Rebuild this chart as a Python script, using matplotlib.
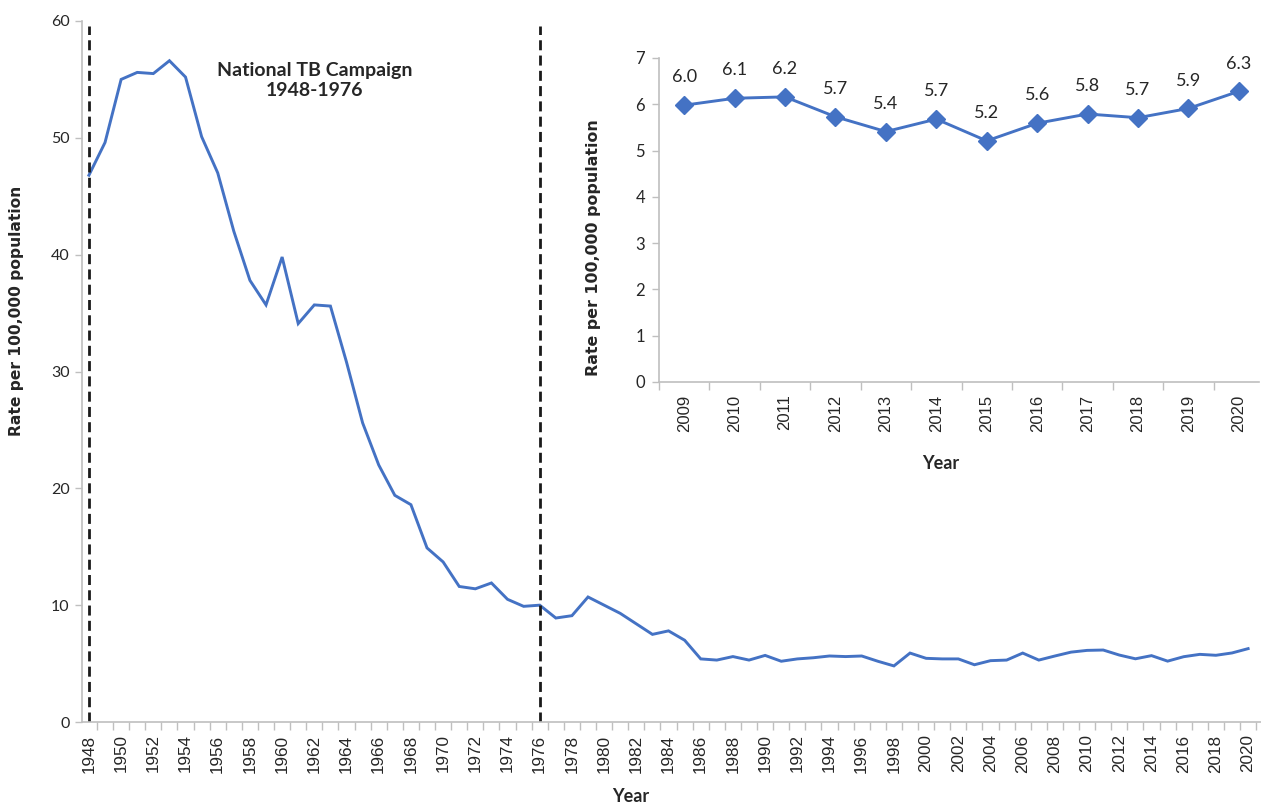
import numpy as np
import matplotlib
matplotlib.use("Agg")
import matplotlib.pyplot as plt
from matplotlib.ticker import FixedLocator, MultipleLocator

# Datos: tasa anual por 100.000 habitantes
years = list(range(1948, 2021))
rates = [
    46.8, 49.6, 55.0, 55.6, 55.5, 56.6, 55.2, 50.1, 47.0, 42.0,   # 1948-1957
    37.8, 35.7, 39.8, 34.1, 35.7, 35.6, 30.8, 25.6, 22.0, 19.4,   # 1958-1967
    18.6, 14.9, 13.7, 11.6, 11.4, 11.9, 10.5, 9.9, 10.0, 8.9,     # 1968-1977
    9.1, 10.7, 10.0, 9.3, 8.4, 7.5, 7.8, 7.0, 5.4, 5.3,           # 1978-1987
    5.6, 5.3, 5.7, 5.2, 5.4, 5.5, 5.65, 5.6, 5.65, 5.2,           # 1988-1997
    4.8, 5.9, 5.45, 5.4, 5.4, 4.9, 5.25, 5.3, 5.9, 5.3,           # 1998-2007
    5.65, 5.98, 6.13, 6.16, 5.73, 5.41, 5.68, 5.21, 5.59, 5.79,   # 2008-2017
    5.71, 5.91, 6.28,                                             # 2018-2020
]

inset_years = list(range(2009, 2021))
inset_rates = [5.98, 6.13, 6.16, 5.73, 5.41, 5.68, 5.21, 5.59, 5.79, 5.71, 5.91, 6.28]

campaign_years = [1948, 1976]

blue = "#4472C4"
axis_gray = "#BFBFBF"
text_col = "#262626"

W, H = 1261, 807
fig = plt.figure(figsize=(W / 100, H / 100), dpi=100)

# Grafico principal
ax = fig.add_axes([82 / W, (H - 722) / H, (W - 82) / W, 701 / H])
ax.plot(years, rates, color=blue, linewidth=2.1, solid_joinstyle="miter")
ax.vlines(campaign_years, 0, 59.6, colors="#1a1a1a", linewidth=2,
          linestyles=(0, (3.6, 1.9)))
ax.set_xlim(1947.57, 1947.57 + 1179 / 16.1)
ax.set_ylim(0, 60)

ax.xaxis.set_major_locator(FixedLocator(years[::2]))
ax.xaxis.set_minor_locator(FixedLocator([y - 0.5 for y in years] + [2020.5]))
ax.tick_params(axis="x", which="major", length=0, pad=9, labelrotation=90,
               labelsize=12.3, labelcolor=text_col)
ax.tick_params(axis="x", which="minor", length=6, color=axis_gray, width=1)
for lbl in ax.get_xticklabels():
    lbl.set_family("Liberation Sans")

ax.yaxis.set_major_locator(MultipleLocator(10))
ax.tick_params(axis="y", length=5, color=axis_gray, width=1, labelsize=11.5,
               labelcolor=text_col, pad=4)
for lbl in ax.get_yticklabels():
    lbl.set_family("Lato")

for s in ["top", "right"]:
    ax.spines[s].set_visible(False)
for s in ["left", "bottom"]:
    ax.spines[s].set_color(axis_gray)
    ax.spines[s].set_linewidth(1.2)

ax.set_ylabel("Rate per 100,000 population", fontsize=11.2, fontweight="bold",
              family="DejaVu Sans", color=text_col)
ax.yaxis.set_label_coords(-0.049, 0.586)
ax.set_xlabel("Year", fontsize=13, fontweight="bold", family="Lato", color=text_col)
ax.xaxis.set_label_coords(0.465, -0.094)

ax.text(1962, 54.9, "National TB Campaign\n1948-1976", ha="center", va="center",
        fontsize=14, fontweight="bold", family="Lato", color=text_col,
        linespacing=1.2)

# Grafico insertado 2009-2020
ins = fig.add_axes([659 / W, (H - 382) / H, 600 / W, 324 / H])
ins.plot(inset_years, inset_rates, color=blue, linewidth=2.1, marker="D",
         markersize=9.5)
ins.set_xlim(2008.5, 2020.4)
ins.set_ylim(0, 7)
for x, v in zip(inset_years, inset_rates):
    ins.annotate(f"{v:.1f}", (x, v), xytext=(0, 20), textcoords="offset points",
                 ha="center", va="center", fontsize=13, family="Lato",
                 color=text_col)

ins.xaxis.set_major_locator(FixedLocator(inset_years))
ins.xaxis.set_minor_locator(FixedLocator([y - 0.5 for y in inset_years]))
ins.tick_params(axis="x", which="major", length=0, pad=9, labelrotation=90,
                labelsize=12, labelcolor=text_col)
ins.tick_params(axis="x", which="minor", length=6, color=axis_gray, width=1)
for lbl in ins.get_xticklabels():
    lbl.set_family("Liberation Sans")
ins.yaxis.set_major_locator(MultipleLocator(1))
ins.tick_params(axis="y", length=5, color=axis_gray, width=1, labelsize=12,
                labelcolor=text_col, pad=5)
for lbl in ins.get_yticklabels():
    lbl.set_family("Lato")
for s in ["top", "right"]:
    ins.spines[s].set_visible(False)
for s in ["left", "bottom"]:
    ins.spines[s].set_color(axis_gray)
    ins.spines[s].set_linewidth(1.2)

ins.set_ylabel("Rate per 100,000 population", fontsize=11.4, fontweight="bold",
               family="DejaVu Sans", color=text_col)
ins.yaxis.set_label_coords(-0.097, 0.414)
ins.set_xlabel("Year", fontsize=13, fontweight="bold", family="Lato", color=text_col)
ins.xaxis.set_label_coords(0.47, -0.225)

fig.savefig("out.png", dpi=100)
plt.close(fig)
